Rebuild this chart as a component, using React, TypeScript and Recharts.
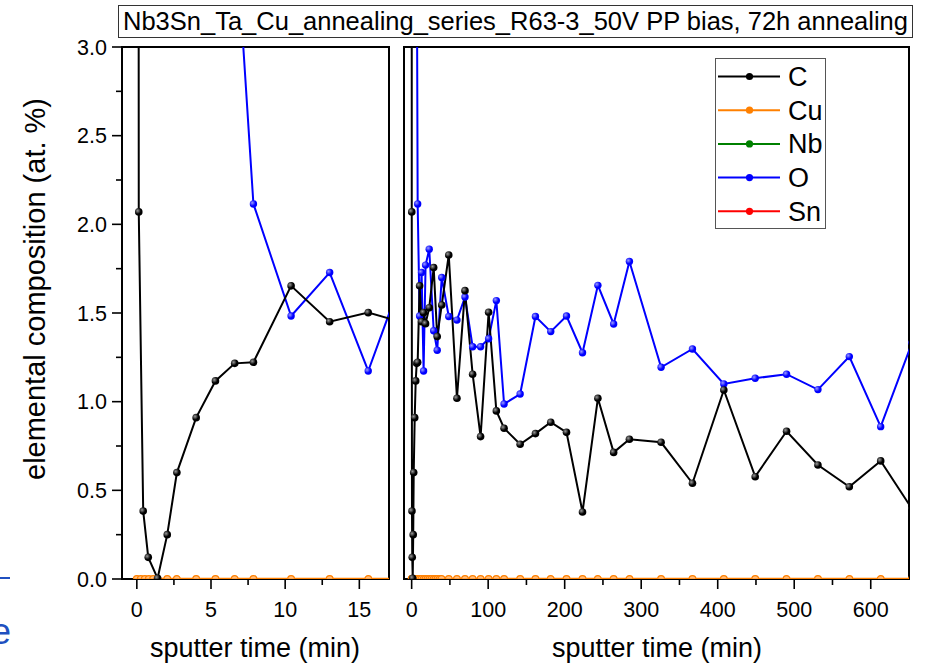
import React from 'react';
import { LineChart, Line, XAxis, YAxis, ReferenceArea } from 'recharts';

// sputter time (min) shared by C and O
const time = [0, 0.13, 0.43, 0.77, 1.4, 2.05, 2.7, 4.0, 5.3, 6.6, 7.86, 10.4, 13.0, 15.6, 18.2, 23, 28.8, 33.4, 39.3, 48.5, 59.2, 69.7, 79.7, 90.1, 100.6, 110.7, 120.8, 141.8, 161.8, 181.8, 202.4, 223.3, 243.4, 264, 284.6, 326, 367, 408, 449, 490, 531, 572, 613, 654];
const carbon = [25, 2.07, 0.383, 0.122, 0.004, 0.25, 0.6, 0.91, 1.117, 1.216, 1.222, 1.653, 1.451, 1.502, 1.44, 1.53, 1.756, 1.367, 1.545, 1.827, 1.019, 1.626, 1.155, 0.803, 1.504, 0.948, 0.85, 0.76, 0.82, 0.884, 0.827, 0.378, 1.019, 0.714, 0.788, 0.771, 0.54, 1.066, 0.577, 0.833, 0.643, 0.52, 0.666, 0.395];
const oxygen = [40, 35, 25, 18, 12, 8, 6, 5, 4.4, 3.75, 2.115, 1.483, 1.728, 1.173, 1.77, 1.86, 1.4, 1.29, 1.7, 1.48, 1.46, 1.59, 1.31, 1.31, 1.355, 1.57, 0.987, 1.043, 1.48, 1.395, 1.483, 1.276, 1.656, 1.438, 1.79, 1.194, 1.297, 1.1, 1.132, 1.155, 1.068, 1.254, 0.859, 1.333];
const cuTime = [0, 0.27, 0.54, 0.81, 1.1, 1.4, 2.05, 2.7, 4.0, 5.3, 6.6, 7.86, 10.4, 13.0, 15.6, 18.2, 20.8, 23.4, 26, 28.6, 31.2, 33.8, 36.4, 39, 48.5, 59.2, 69.7, 79.7, 90.1, 100.6, 110.7, 120.8, 141.8, 161.8, 181.8, 202.4, 223.3, 243.4, 264, 284.6, 326, 367, 408, 449, 490, 531, 572, 613, 654];
const copper = [0, 0, 0, 0, 0, 0, 0, 0, 0, 0, 0, 0, 0, 0, 0, 0, 0, 0, 0, 0, 0, 0, 0, 0, 0, 0, 0, 0, 0, 0, 0, 0, 0, 0, 0, 0, 0, 0, 0, 0, 0, 0, 0, 0, 0, 0, 0, 0, 0];

const elements = ['C', 'Cu', 'Nb', 'O', 'Sn'];
const elementColors = ['#000000', '#ff8000', '#008000', '#0000ff', '#ff0000'];

const yTicks = [0, 0.25, 0.5, 0.75, 1, 1.25, 1.5, 1.75, 2, 2.25, 2.5, 2.75, 3];
const leftXTicks = [0, 2.5, 5, 7.5, 10, 12.5, 15];
const rightXTicks = [0, 50, 100, 150, 200, 250, 300, 350, 400, 450, 500, 550, 600];
const leftDomain = [-1, 17];
const rightDomain = [-10, 650];
const yDomain = [0, 3];

const titleText = 'Nb3Sn_Ta_Cu_annealing_series_R63-3_50V PP bias, 72h annealing';
const yTitle = 'elemental composition (at. %)';
const xTitle = 'sputter time (min)';

const FONT = '"Liberation Sans", Arial, Helvetica, sans-serif';

const cData = time.map((t, i) => ({ t, v: carbon[i] }));
const oData = time.map((t, i) => ({ t, v: oxygen[i] }));
const cuData = cuTime.map((t, i) => ({ t, v: copper[i] }));

const isMajor = (v: number, step: number) => Math.abs(v / step - Math.round(v / step)) < 1e-6;

const makeXTick = (step: number) => (p: any) => {
  const v = p.payload.value;
  const major = isMajor(v, step);
  return (
    <g>
      <line x1={p.x} x2={p.x} y1={p.y} y2={p.y + (major ? 10 : 6)} stroke="#000" strokeWidth={1.6} />
      {major && (
        <text x={p.x} y={p.y + 38} textAnchor="middle" fontSize={21.5} fontFamily={FONT} fill="#000">
          {String(v)}
        </text>
      )}
    </g>
  );
};

const yTick = (p: any) => {
  const v = p.payload.value;
  const major = isMajor(v, 0.5);
  return (
    <g>
      <line x1={p.x - (major ? 10 : 6)} x2={p.x} y1={p.y} y2={p.y} stroke="#000" strokeWidth={1.6} />
      {major && (
        <text x={p.x - 15} y={p.y + 7.5} textAnchor="end" fontSize={21.5} fontFamily={FONT} fill="#000">
          {v.toFixed(1)}
        </text>
      )}
    </g>
  );
};

const ball = (id: string, r: number) => (p: any) => (
  <circle key={`${id}-${p.index}`} cx={p.cx} cy={p.cy} r={r} fill={`url(#${id})`} />
);
// Cu dots sit on the lower frame edge, so only their upper half shows
const cuDot = (p: any) => {
  const r = 3.4;
  return (
    <path key={`cu-${p.index}`} d={`M${p.cx - r},${p.cy} A${r},${r} 0 0 1 ${p.cx + r},${p.cy} Z`}
      fill="#ffbf80" stroke="#ff8000" strokeWidth={1.2} />
  );
};

const Defs = ({ prefix }: { prefix: string }) => (
  <defs>
    <radialGradient id={`${prefix}ballC`} cx="35%" cy="35%" r="70%">
      <stop offset="0%" stopColor="#9a9a9a" />
      <stop offset="60%" stopColor="#000" />
    </radialGradient>
    <radialGradient id={`${prefix}ballO`} cx="35%" cy="35%" r="70%">
      <stop offset="0%" stopColor="#9a9aff" />
      <stop offset="60%" stopColor="#0000ff" />
    </radialGradient>
  </defs>
);

const Series = (prefix: string) => [
  <Line key="cu" data={cuData} dataKey="v" type="linear" stroke="#ff8000" strokeWidth={2.4} dot={cuDot} activeDot={false} isAnimationActive={false} />,
  <Line key="o" data={oData} dataKey="v" type="linear" stroke="#0000ff" strokeWidth={2} dot={ball(`${prefix}ballO`, 3.7)} activeDot={false} isAnimationActive={false} />,
  <Line key="c" data={cData} dataKey="v" type="linear" stroke="#000000" strokeWidth={2} dot={ball(`${prefix}ballC`, 3.8)} activeDot={false} isAnimationActive={false} />,
];

export default function App() {
  return (
    <div style={{ position: 'absolute', left: 0, top: 0, width: 943, height: 663, background: '#fff', fontFamily: FONT, overflow: 'hidden' }}>
      {/* left panel */}
      <div style={{ position: 'absolute', left: 0, top: 0 }}>
        <LineChart width={395} height={663} margin={{ top: 47, right: 6, bottom: 0, left: 0 }}>
          <Defs prefix="l" />
          <XAxis type="number" dataKey="t" domain={leftDomain} allowDataOverflow ticks={leftXTicks} interval={0}
            tickSize={0} tickMargin={0} axisLine={false} tickLine={false} tick={makeXTick(5)} height={84} />
          <YAxis type="number" domain={yDomain} allowDataOverflow ticks={yTicks} interval={0}
            tickSize={0} tickMargin={0} axisLine={false} tickLine={false} tick={yTick} width={122} />
          <ReferenceArea x1={leftDomain[0]} x2={leftDomain[1]} y1={yDomain[0]} y2={yDomain[1]} fill="none" fillOpacity={0}
            stroke="#000" strokeWidth={2} ifOverflow="visible" />
          {Series('l')}
        </LineChart>
      </div>
      {/* right panel */}
      <div style={{ position: 'absolute', left: 395, top: 0 }}>
        <LineChart width={548} height={663} margin={{ top: 47, right: 34, bottom: 0, left: 9 }}>
          <Defs prefix="r" />
          <XAxis type="number" dataKey="t" domain={rightDomain} allowDataOverflow ticks={rightXTicks} interval={0}
            tickSize={0} tickMargin={0} axisLine={false} tickLine={false} tick={makeXTick(100)} height={84} />
          <YAxis type="number" domain={yDomain} allowDataOverflow hide width={0} />
          <ReferenceArea x1={rightDomain[0]} x2={rightDomain[1]} y1={yDomain[0]} y2={yDomain[1]} fill="none" fillOpacity={0}
            stroke="#000" strokeWidth={2} ifOverflow="visible" />
          {Series('r')}
        </LineChart>
      </div>

      {/* title box */}
      <div style={{ position: 'absolute', left: 118, top: 5, width: 795, height: 33, boxSizing: 'border-box', border: '1.5px solid #333',
        textAlign: 'center', fontSize: 25.5, lineHeight: '30px', color: '#000', background: '#fff', whiteSpace: 'nowrap' }}>
        {titleText}
      </div>

      {/* legend */}
      <div style={{ position: 'absolute', left: 715, top: 58, width: 111, height: 171, boxSizing: 'border-box', border: '1.5px solid #555', background: '#fff' }}>
        <svg width={108} height={168} style={{ position: 'absolute', left: 0, top: 0 }}>
          {elements.map((el, i) => {
            const cy = 17.5 + i * 33.7;
            return (
              <g key={el}>
                <line x1={2} x2={64} y1={cy} y2={cy} stroke={elementColors[i]} strokeWidth={2} />
                <circle cx={33.5} cy={cy} r={3.6} fill={elementColors[i]} />
                <text x={72} y={cy + 9.5} fontSize={27} fontFamily={FONT} fill="#000">{el}</text>
              </g>
            );
          })}
        </svg>
      </div>

      {/* axis titles */}
      <div style={{ position: 'absolute', left: 35 - 250, top: 289 - 17, width: 500, height: 34, textAlign: 'center', fontSize: 29, lineHeight: '34px',
        transform: 'rotate(-90deg)', whiteSpace: 'nowrap', color: '#000' }}>
        {yTitle}
      </div>
      <div style={{ position: 'absolute', left: 255 - 150, top: 635, width: 300, height: 26, textAlign: 'center', fontSize: 27, lineHeight: '26px', whiteSpace: 'nowrap', color: '#000' }}>
        {xTitle}
      </div>
      <div style={{ position: 'absolute', left: 657 - 150, top: 635, width: 300, height: 26, textAlign: 'center', fontSize: 27, lineHeight: '26px', whiteSpace: 'nowrap', color: '#000' }}>
        {xTitle}
      </div>

      {/* cropped fragments at the left edge */}
      <div style={{ position: 'absolute', left: 0, top: 577, width: 10, height: 2, background: '#2050c0' }} />
      <div style={{ position: 'absolute', left: -9, top: 612, fontSize: 36, lineHeight: '40px', color: '#2050c0' }}>e</div>
    </div>
  );
}
